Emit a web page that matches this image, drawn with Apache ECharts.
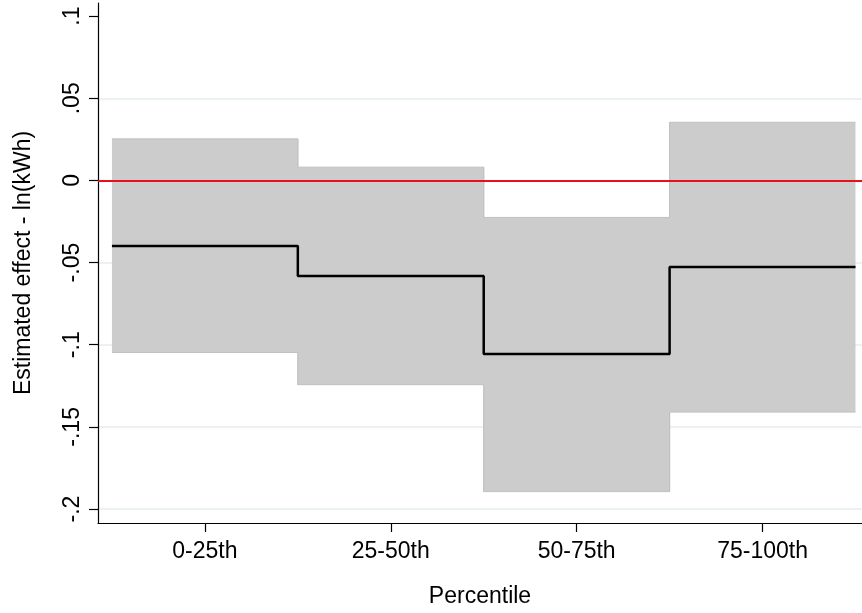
<!DOCTYPE html>
<html>
<head>
<meta charset="utf-8">
<script src="https://cdn.jsdelivr.net/npm/echarts@6/dist/echarts.min.js"></script>
<style>html,body{margin:0;padding:0;background:#fff}#c{width:862px;height:613px}</style>
</head>
<body>
<div id="c"></div>
<script>
var categories = ['0-25th', '25-50th', '50-75th', '75-100th'];
var estimate = [-0.0399, -0.0581, -0.1057, -0.0527];
var upper = [0.0253, 0.0081, -0.0225, 0.0354];
var lower = [-0.1047, -0.1243, -0.1894, -0.1410];
var yTicks = [-0.2, -0.15, -0.1, -0.05, 0, 0.05, 0.1];
var xTicks = [1, 2, 3, 4];

function stepPoints(vals) {
  var pts = [];
  for (var i = 0; i < vals.length; i++) {
    pts.push([i + 0.5, vals[i]]);
    pts.push([i + 1.5, vals[i]]);
  }
  return pts;
}
var bandData = categories.map(function (c, i) { return [i + 1, lower[i], upper[i]]; });
var estPts = stepPoints(estimate);
var upperPts = stepPoints(upper);
var lowerPts = stepPoints(lower);

function fmtY(v) {
  var s = String(Math.round(v * 1000) / 1000);
  return s.replace(/^0\./, '.').replace(/^-0\./, '-.');
}

var FONT = 'Liberation Sans, Arial, sans-serif';
var GRID = '#e6eef0';
var chart = echarts.init(document.getElementById('c'));
chart.setOption({
  animation: false,
  backgroundColor: '#ffffff',
  grid: { left: 98, right: 0, top: 3, bottom: 89, containLabel: false },
  xAxis: {
    type: 'value', min: 0.425, max: 4.535,
    name: 'Percentile', nameLocation: 'middle', nameGap: 62,
    nameTextStyle: { fontFamily: FONT, fontSize: 23, color: '#000' },
    axisLine: { show: true, onZero: false, lineStyle: { color: '#000', width: 1.2 } },
    axisTick: { show: true, length: 9, customValues: xTicks, lineStyle: { color: '#000', width: 1.2 } },
    axisLabel: { customValues: xTicks, margin: 17, fontFamily: FONT, fontSize: 23, color: '#000',
      formatter: function (v) { return categories[Math.round(v) - 1] || ''; } },
    splitLine: { show: false }
  },
  yAxis: {
    type: 'value', min: -0.2085, max: 0.108,
    name: 'Estimated effect - ln(kWh)', nameLocation: 'middle', nameGap: 63, nameRotate: 90,
    nameTextStyle: { fontFamily: FONT, fontSize: 23, color: '#000' },
    axisLine: { show: true, onZero: false, lineStyle: { color: '#000', width: 1.2 } },
    axisTick: { show: true, length: 9, customValues: yTicks, lineStyle: { color: '#000', width: 1.2 } },
    axisLabel: { customValues: yTicks, rotate: 90, margin: 14, fontFamily: FONT, fontSize: 23, color: '#000',
      formatter: fmtY },
    splitLine: { show: true, lineStyle: { color: [GRID, GRID, GRID, GRID, GRID, GRID, 'rgba(0,0,0,0)'], width: 1.5 } }
  },
  series: [
    { type: 'custom', data: bandData, z: 1,
      renderItem: function (params, api) {
        var x = api.value(0), lo = api.value(1), hi = api.value(2);
        var p1 = api.coord([x - 0.5, hi]);
        var p2 = api.coord([x + 0.5, lo]);
        var first = params.dataIndex === 0, last = params.dataIndex === params.dataInsideLength - 1;
        var x0 = p1[0] - (first ? 0 : 0.6);
        var x1 = p2[0] + (last ? 0 : 0.6);
        return { type: 'rect',
          shape: { x: x0, y: p1[1], width: x1 - x0, height: p2[1] - p1[1] },
          style: { fill: '#cccccc', stroke: null } };
      } },
    { type: 'line', data: upperPts, symbol: 'none', z: 2,
      lineStyle: { color: '#c0c0c0', width: 1 } },
    { type: 'line', data: lowerPts, symbol: 'none', z: 2,
      lineStyle: { color: '#c0c0c0', width: 1 },
      markLine: { silent: true, symbol: 'none', label: { show: false },
        lineStyle: { color: '#e3121b', width: 1.8, type: 'solid' },
        data: [{ yAxis: 0 }] } },
    { type: 'line', data: estPts, symbol: 'none', z: 5,
      lineStyle: { color: '#000000', width: 2.5 } }
  ]
});
</script>
</body>
</html>
